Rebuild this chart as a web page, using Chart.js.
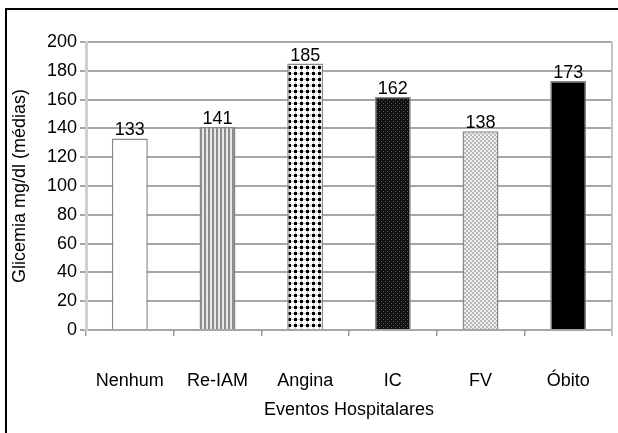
<!DOCTYPE html>
<html>
<head>
<meta charset="utf-8">
<script src="https://cdn.jsdelivr.net/npm/chart.js@4.4.1/dist/chart.umd.min.js"></script>
<style>
  html, body { margin: 0; padding: 0; background: #fff; }
  #wrap { position: relative; width: 618px; height: 433px; }
</style>
</head>
<body>
<div id="wrap"><canvas id="c" width="618" height="433"></canvas></div>
<script>
const categories = ["Nenhum", "Re-IAM", "Angina", "IC", "FV", "Óbito"];
const glicemia = [133, 141, 185, 162, 138, 173];
const yTicks = [0, 20, 40, 60, 80, 100, 120, 140, 160, 180, 200];

const FONT = "'Liberation Sans', Arial, sans-serif";

function makePattern(w, h, draw) {
  const c = document.createElement('canvas');
  c.width = w; c.height = h;
  const g = c.getContext('2d');
  draw(g);
  return document.getElementById('c').getContext('2d').createPattern(c, 'repeat');
}
const patWhite = '#ffffff';
const patStripes = makePattern(4, 4, g => {
  g.fillStyle = '#e8e8e8'; g.fillRect(0, 0, 4, 4);
  g.fillStyle = '#8c8c8c'; g.fillRect(0, 0, 2, 4);
});
const patDots = makePattern(6, 6, g => {
  g.fillStyle = '#ffffff'; g.fillRect(0, 0, 6, 6);
  g.fillStyle = '#c0c0c0'; g.fillRect(0, 1, 6, 1); g.fillRect(1, 0, 1, 6);
  g.fillStyle = '#000000'; g.fillRect(0, 0, 3, 3);
});
const patDense = makePattern(4, 4, g => {
  g.fillStyle = '#111111'; g.fillRect(0, 0, 4, 4);
  g.fillStyle = '#5a5a5a'; g.fillRect(1, 1, 1, 1); g.fillRect(3, 3, 1, 1);
});
const patHatch = makePattern(4, 4, g => {
  g.fillStyle = '#f0f0f0'; g.fillRect(0, 0, 4, 4);
  g.fillStyle = '#b8b8b8'; g.fillRect(0, 0, 2, 2); g.fillRect(2, 2, 2, 2);
});
const barFills = [patWhite, patStripes, patDots, patDense, patHatch, '#000000'];

const framePlugin = {
  id: 'frame',
  beforeDraw(chart) {
    const ctx = chart.ctx;
    ctx.save();
    ctx.strokeStyle = '#000'; ctx.lineWidth = 2;
    ctx.beginPath();
    ctx.moveTo(6, 433); ctx.lineTo(6, 9); ctx.lineTo(618, 9);
    ctx.stroke();
    ctx.restore();
  },
  afterDraw(chart) {
    const a = chart.chartArea, ctx = chart.ctx;
    ctx.save();
    ctx.strokeStyle = '#c4c4c4'; ctx.lineWidth = 2;
    ctx.beginPath();
    ctx.moveTo(a.right, a.top); ctx.lineTo(a.right, a.bottom + 6);
    ctx.stroke();
    ctx.restore();
  }
};

const labelPlugin = {
  id: 'barLabels',
  afterDatasetsDraw(chart) {
    const ctx = chart.ctx;
    const meta = chart.getDatasetMeta(0);
    ctx.save();
    ctx.font = '18px ' + FONT;
    ctx.fillStyle = '#000';
    ctx.textAlign = 'center';
    ctx.textBaseline = 'alphabetic';
    meta.data.forEach((bar, i) => {
      ctx.fillText(String(glicemia[i]), bar.x, bar.y - 3);
    });
    ctx.restore();
  }
};

function zeroPad(scale) {
  scale.paddingLeft = 0; scale.paddingRight = 0;
  scale.paddingTop = 0; scale.paddingBottom = 0;
}

new Chart(document.getElementById('c'), {
  type: 'bar',
  data: {
    labels: categories,
    datasets: [{
      data: glicemia,
      backgroundColor: barFills,
      borderColor: '#8a8a8a',
      borderWidth: 1.5,
      barPercentage: 0.41,
      categoryPercentage: 1.0
    }]
  },
  options: {
    responsive: false,
    animation: false,
    devicePixelRatio: 1,
    layout: { padding: { top: 42, right: 6, left: 0, bottom: 0 } },
    plugins: { legend: { display: false }, tooltip: { enabled: false } },
    scales: {
      x: {
        afterFit(scale) { scale.height = 103; zeroPad(scale); },
        grid: { drawOnChartArea: false, drawTicks: true, tickLength: 6, color: '#9a9a9a', lineWidth: 1.5 },
        border: { display: true, color: '#a6a6a6', width: 2 },
        ticks: { color: '#000', font: { family: FONT, size: 18 }, padding: 34, maxRotation: 0 },
        title: { display: true, text: 'Eventos Hospitalares', color: '#000',
                 font: { family: FONT, size: 18 }, padding: { top: 0, bottom: 12 } }
      },
      y: {
        min: 0, max: 200,
        afterFit(scale) { scale.width = 86; zeroPad(scale); },
        afterBuildTicks(scale) { scale.ticks = yTicks.map(v => ({ value: v })); },
        grid: { color: '#a6a6a6', lineWidth: 2, tickLength: 6, drawTicks: true },
        border: { display: true, color: '#cfcfcf', width: 3 },
        ticks: { color: '#000', font: { family: FONT, size: 18 }, padding: 3 },
        title: { display: true, text: 'Glicemia mg/dl (médias)', color: '#000',
                 font: { family: FONT, size: 18 }, padding: { top: 9, bottom: 0 } }
      }
    }
  },
  plugins: [framePlugin, labelPlugin]
});
</script>
</body>
</html>
